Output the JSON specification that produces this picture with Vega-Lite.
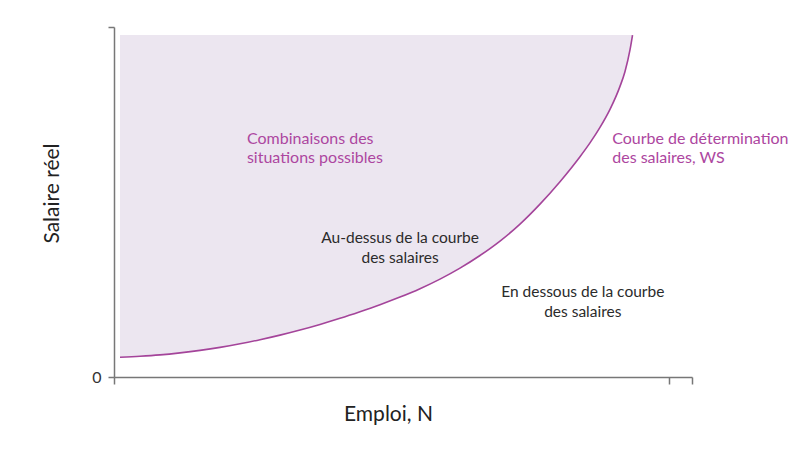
{
  "$schema": "https://vega.github.io/schema/vega-lite/v6.json",
  "width": 578,
  "height": 350,
  "autosize": {"type": "none"},
  "padding": {"left": 114, "top": 27, "right": 118, "bottom": 77},
  "background": "white",
  "config": {"view": {"stroke": null}, "font": "Lato"},
  "datasets": {
    "curve": [
      {"N": 1.04, "W": 5.63},
      {"N": 4.50, "W": 5.91},
      {"N": 7.96, "W": 6.31},
      {"N": 11.42, "W": 6.89},
      {"N": 14.88, "W": 7.60},
      {"N": 18.34, "W": 8.46},
      {"N": 21.80, "W": 9.49},
      {"N": 25.26, "W": 10.66},
      {"N": 28.72, "W": 11.97},
      {"N": 32.18, "W": 13.43},
      {"N": 35.64, "W": 15.03},
      {"N": 39.10, "W": 16.77},
      {"N": 42.56, "W": 18.66},
      {"N": 46.02, "W": 20.66},
      {"N": 49.48, "W": 22.83},
      {"N": 52.94, "W": 25.23},
      {"N": 56.40, "W": 27.97},
      {"N": 59.86, "W": 31.11},
      {"N": 63.32, "W": 34.71},
      {"N": 66.78, "W": 38.83},
      {"N": 70.24, "W": 43.69},
      {"N": 73.70, "W": 49.40},
      {"N": 77.16, "W": 55.80},
      {"N": 80.62, "W": 62.94},
      {"N": 82.35, "W": 66.89},
      {"N": 84.08, "W": 71.31},
      {"N": 85.81, "W": 76.46},
      {"N": 87.54, "W": 83.03},
      {"N": 88.41, "W": 87.31},
      {"N": 89.27, "W": 93.46},
      {"N": 89.71, "W": 97.71}
    ],
    "leftLabels": [
      {"N": 23.0, "W": 68.0, "t": ["Combinaisons des", "situations possibles"]},
      {"N": 86.2, "W": 68.0, "t": ["Courbe de détermination", "des salaires, WS"]}
    ],
    "centerLabels": [
      {"N": 49.5, "W": 39.7, "t": ["Au-dessus de la courbe", "des salaires"]},
      {"N": 81.1, "W": 24.4, "t": ["En dessous de la courbe", "des salaires"]}
    ]
  },
  "encoding": {
    "x": {
      "field": "N", "type": "quantitative",
      "scale": {"domain": [0, 100], "nice": false, "zero": false},
      "axis": {
        "values": [0, 96, 100], "labels": false, "grid": false,
        "domainColor": "#777777", "domainWidth": 1.5, "tickColor": "#777777", "tickWidth": 1.5, "tickSize": 7,
        "title": "Emploi, N", "titleFont": "Lato", "titleFontSize": 21, "titleFontWeight": "normal", "titleColor": "#222222",
        "titleX": 274, "titleY": 37, "titleBaseline": "middle", "titleAlign": "center"
      }
    },
    "y": {
      "field": "W", "type": "quantitative",
      "scale": {"domain": [0, 100], "nice": false, "zero": false},
      "axis": {
        "values": [0, 100], "labelExpr": "datum.value == 0 ? '0' : ''", "grid": false,
        "labelFont": "Lato", "labelFontSize": 16, "labelColor": "#333333", "labelPadding": 7,
        "domainColor": "#777777", "domainWidth": 1.5, "tickColor": "#777777", "tickWidth": 1.5, "tickSize": 6,
        "title": "Salaire réel", "titleFont": "Lato", "titleFontSize": 21, "titleFontWeight": "normal", "titleColor": "#222222",
        "titleX": -62, "titleY": 166, "titleAngle": -90, "titleBaseline": "middle", "titleAlign": "center"
      }
    }
  },
  "layer": [
    {
      "data": {"name": "curve"},
      "mark": {"type": "area", "color": "#ece6f0", "interpolate": "monotone", "opacity": 1},
      "encoding": {"y2": {"datum": 97.71}}
    },
    {
      "data": {"name": "curve"},
      "mark": {"type": "line", "color": "#a4449a", "strokeWidth": 1.6, "interpolate": "monotone"}
    },
    {
      "data": {"name": "leftLabels"},
      "mark": {"type": "text", "fontSize": 16, "lineHeight": 19, "baseline": "middle", "align": "left", "font": "Lato", "color": "#ad46a0"},
      "encoding": {"text": {"field": "t"}}
    },
    {
      "data": {"name": "centerLabels"},
      "mark": {"type": "text", "fontSize": 15.5, "lineHeight": 20, "baseline": "middle", "align": "center", "font": "Lato", "color": "#2b2b2b"},
      "encoding": {"text": {"field": "t"}}
    }
  ]
}
